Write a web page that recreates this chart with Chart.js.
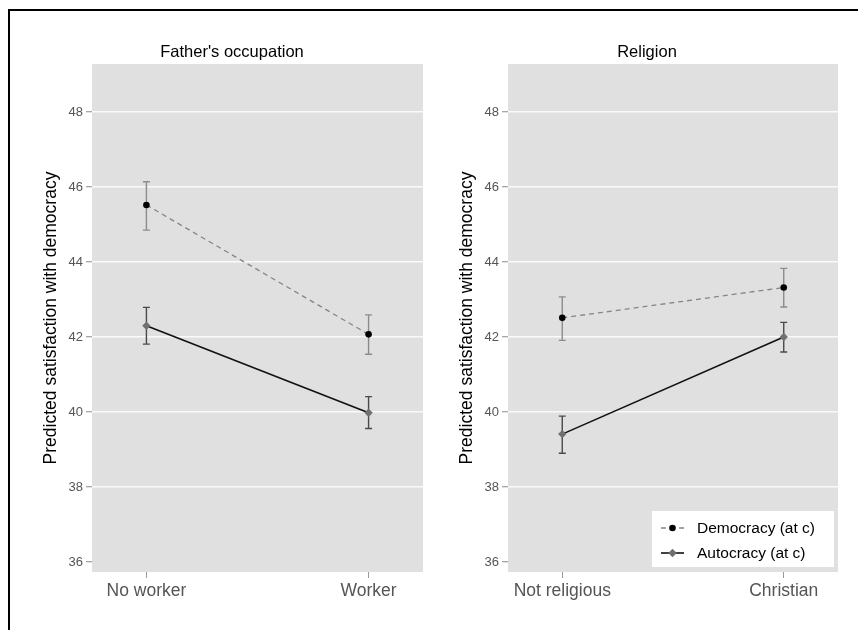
<!DOCTYPE html>
<html>
<head>
<meta charset="utf-8">
<script src="https://cdn.jsdelivr.net/npm/chart.js@4/dist/chart.umd.min.js"></script>
<style>
  html, body { margin: 0; padding: 0; background: #fff; overflow: hidden; }
  body { width: 858px; height: 630px; position: relative; }
  #frame { position: absolute; left: 8px; top: 9px; width: 900px; height: 700px;
           border: 2px solid #000; box-sizing: border-box; pointer-events: none; }
  canvas { position: absolute; top: 0; }
  #occ { left: 0; }
  #rel { left: 429px; }
</style>
</head>
<body>
<canvas id="occ" width="429" height="630"></canvas>
<canvas id="rel" width="429" height="630"></canvas>
<div id="frame"></div>
<script>
// Categories of each panel
const occCategories = ['No worker', 'Worker'];
const relCategories = ['Not religious', 'Christian'];

// Predicted satisfaction and 95% interval bounds — Father's occupation
const occDemocracy = [45.52, 42.07];
const occDemocracyLo = [44.85, 41.54];
const occDemocracyHi = [46.14, 42.59];
const occAutocracy = [42.30, 39.98];
const occAutocracyLo = [41.81, 39.56];
const occAutocracyHi = [42.79, 40.41];

// Predicted satisfaction and 95% interval bounds — Religion
const relDemocracy = [42.51, 43.32];
const relDemocracyLo = [41.91, 42.80];
const relDemocracyHi = [43.07, 43.83];
const relAutocracy = [39.41, 42.00];
const relAutocracyLo = [38.90, 41.60];
const relAutocracyHi = [39.89, 42.39];

const yTicks = [36, 38, 40, 42, 44, 46, 48];
const seriesNames = ['Democracy (at c)', 'Autocracy (at c)'];
const yTitle = 'Predicted satisfaction with democracy';

const FONT = '"Liberation Sans", Arial, Helvetica, sans-serif';
const PLOT_BG = '#e0e0e0';
const DEM_CI = '#8c8c8c';
const AUT_CI = '#4a4a4a';

function pts(vals) { return vals.map((v, i) => ({ x: i, y: v })); }

// Draws panel background, titles, interval bars and (optionally) the legend
const panelDecor = {
  id: 'panelDecor',
  beforeDraw(chart, args, opts) {
    const { ctx, chartArea: a } = chart;
    ctx.save();
    ctx.fillStyle = PLOT_BG;
    ctx.fillRect(a.left, a.top, a.right - a.left, a.bottom - a.top);
    ctx.fillStyle = '#000';
    ctx.font = '16.5px ' + FONT;
    ctx.textAlign = 'center';
    ctx.textBaseline = 'middle';
    ctx.fillText(opts.title, opts.titleX, 52);
    ctx.translate(opts.yTitleX, (a.top + a.bottom) / 2);
    ctx.rotate(-Math.PI / 2);
    ctx.font = '17.5px ' + FONT;
    ctx.fillText(yTitle, 0, 0);
    ctx.restore();
  },
  beforeDatasetsDraw(chart, args, opts) {
    const { ctx } = chart;
    const xs = chart.scales.x, ys = chart.scales.y;
    ctx.save();
    opts.bars.forEach(b => {
      ctx.strokeStyle = b.color;
      ctx.lineWidth = 1.4;
      b.lo.forEach((lo, i) => {
        const x = xs.getPixelForValue(i);
        const y1 = ys.getPixelForValue(lo);
        const y2 = ys.getPixelForValue(b.hi[i]);
        ctx.beginPath();
        ctx.moveTo(x, y1); ctx.lineTo(x, y2);
        ctx.moveTo(x - 3.5, y1); ctx.lineTo(x + 3.5, y1);
        ctx.moveTo(x - 3.5, y2); ctx.lineTo(x + 3.5, y2);
        ctx.stroke();
      });
    });
    ctx.restore();
  },
  afterDraw(chart, args, opts) {
    if (!opts.legend) return;
    const { ctx, chartArea: a } = chart;
    const bx = a.left + 144, by = a.top + 447, bw = 182, bh = 56;
    ctx.save();
    ctx.fillStyle = '#fff';
    ctx.fillRect(bx, by, bw, bh);
    chart.data.datasets.forEach((ds, i) => {
      const y = by + 17 + i * 25;
      const x0 = bx + 9, x1 = bx + 32, xm = (x0 + x1) / 2;
      ctx.strokeStyle = ds.borderColor;
      ctx.lineWidth = ds.borderWidth;
      ctx.setLineDash(ds.borderDash || []);
      ctx.beginPath(); ctx.moveTo(x0, y); ctx.lineTo(x1, y); ctx.stroke();
      ctx.setLineDash([]);
      ctx.fillStyle = ds.pointBackgroundColor;
      ctx.beginPath();
      if (ds.pointStyle === 'rectRot') {
        const r = ds.pointRadius;
        ctx.moveTo(xm, y - r); ctx.lineTo(xm + r, y); ctx.lineTo(xm, y + r); ctx.lineTo(xm - r, y);
        ctx.closePath();
      } else {
        ctx.arc(xm, y, ds.pointRadius, 0, Math.PI * 2);
      }
      ctx.fill();
      ctx.fillStyle = '#000';
      ctx.font = '15.5px ' + FONT;
      ctx.textAlign = 'left';
      ctx.textBaseline = 'middle';
      ctx.fillText(ds.label, bx + 45, y + 0.5);
    });
    ctx.restore();
  }
};

function makePanel(id, cats, dem, aut, bars, yAxisWidth, padRight, decor) {
  return new Chart(document.getElementById(id), {
    type: 'line',
    data: {
      datasets: [
        {
          label: seriesNames[0], data: pts(dem),
          borderColor: '#858585', borderWidth: 1.3, borderDash: [5, 4],
          pointStyle: 'circle', pointRadius: 3.3, pointBorderWidth: 0,
          pointBackgroundColor: '#000', fill: false, tension: 0
        },
        {
          label: seriesNames[1], data: pts(aut),
          borderColor: '#111', borderWidth: 1.6,
          pointStyle: 'rectRot', pointRadius: 4.2, pointBorderWidth: 0,
          pointBackgroundColor: '#707070', fill: false, tension: 0
        }
      ]
    },
    options: {
      responsive: false, animation: false, devicePixelRatio: 1,
      layout: { padding: { top: 64, right: padRight, bottom: 0, left: 0 } },
      scales: {
        x: {
          type: 'linear', min: -0.245, max: 1.245,
          afterBuildTicks: s => { s.ticks = cats.map((c, i) => ({ value: i })); },
          afterFit: s => { s.height = 58; },
          border: { display: false },
          grid: { drawOnChartArea: false, drawTicks: true, tickLength: 6, tickColor: '#9a9a9a', tickWidth: 1 },
          ticks: { callback: v => cats[v], color: '#555', font: { family: FONT, size: 17.5 },
                   padding: 3, maxRotation: 0, autoSkip: false }
        },
        y: {
          min: 35.733, max: 49.28,
          afterBuildTicks: s => { s.ticks = yTicks.map(v => ({ value: v })); },
          afterFit: s => { s.width = yAxisWidth; },
          border: { display: false },
          grid: {
            color: c => (c.tick && c.tick.value === yTicks[0]) ? 'rgba(0,0,0,0)' : '#fafafa',
            lineWidth: 1.5, drawTicks: true, tickLength: 6, tickColor: '#8a8a8a', tickWidth: 1
          },
          ticks: { color: '#555', font: { family: FONT, size: 13 }, padding: 3 }
        }
      },
      plugins: {
        legend: { display: false },
        tooltip: { enabled: false },
        panelDecor: Object.assign({ bars }, decor)
      }
    },
    plugins: [panelDecor]
  });
}

makePanel('occ', occCategories, occDemocracy, occAutocracy,
  [{ lo: occDemocracyLo, hi: occDemocracyHi, color: DEM_CI },
   { lo: occAutocracyLo, hi: occAutocracyHi, color: AUT_CI }],
  92, 6, { title: "Father's occupation", titleX: 232, yTitleX: 51, legend: false });

makePanel('rel', relCategories, relDemocracy, relAutocracy,
  [{ lo: relDemocracyLo, hi: relDemocracyHi, color: DEM_CI },
   { lo: relAutocracyLo, hi: relAutocracyHi, color: AUT_CI }],
  79, 20, { title: 'Religion', titleX: 218, yTitleX: 38, legend: true });
</script>
</body>
</html>
